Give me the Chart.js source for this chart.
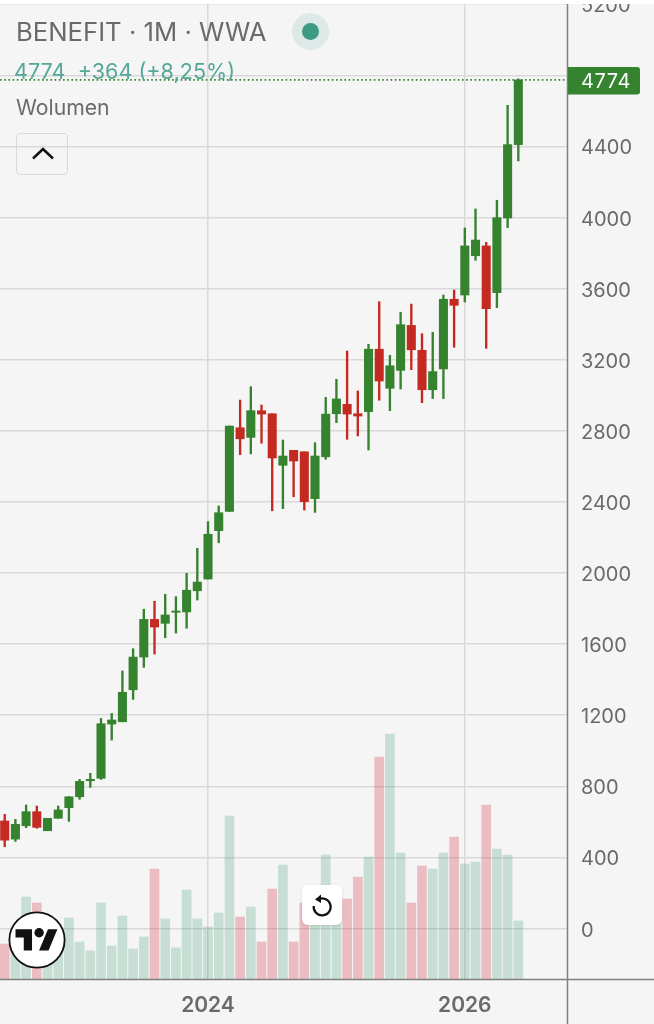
<!DOCTYPE html>
<html>
<head>
<meta charset="utf-8">
<title>BENEFIT 1M WWA</title>
<script src="https://cdn.jsdelivr.net/npm/chart.js@4"></script>
<style>
    html, body { margin: 0; padding: 0; background: #f5f5f5; }
    #wrap { position: relative; width: 654px; height: 1024px; overflow: hidden; font-family: Inter, sans-serif; }
    canvas { position: absolute; left: 0; top: 0; }
    .txt { position: absolute; white-space: pre; color: #6a6a6a; line-height: 1; }
    #topStrip { position: absolute; left: 0; top: 0; width: 654px; height: 3.5px; background: #fff; }
    #title { left: 16px; top: 19px; font-size: 25.7px; }
    #change { left: 14px; top: 61px; font-size: 21.6px; color: #55a797; }
    #volLabel { left: 16px; top: 97px; font-size: 21.2px; }
    #dot { position: absolute; left: 292px; top: 13px; width: 37px; height: 37px; border-radius: 50%; background: #dde9e6; }
    #dot i { position: absolute; left: 10px; top: 10px; width: 17px; height: 17px; border-radius: 50%; background: #3f9a83; }
    #collapse { position: absolute; left: 15.5px; top: 133px; width: 50px; height: 40px; border: 1.5px solid #d8d8d8; border-radius: 4px; }
    #reset { position: absolute; left: 302px; top: 885px; width: 40px; height: 40px; background: #fff; border-radius: 6px; box-shadow: 0 1px 3px rgba(0,0,0,0.12); }
    #logo { position: absolute; left: 8px; top: 911px; width: 58px; height: 58px; }
</style>
</head>
<body>
<div id="wrap">
    <canvas id="chart" width="654" height="1024"></canvas>
    <div id="topStrip"></div>
    <div class="txt" id="title">BENEFIT · 1M · WWA</div>
    <div class="txt" id="change">4774  +364 (+8,25%)</div>
    <div class="txt" id="volLabel">Wolumen</div>
    <div id="dot"><i></i></div>
    <div id="collapse">
        <svg width="50" height="40"><polyline points="16,24.5 26,15 36,24.5" fill="none" stroke="#111" stroke-width="2.5"/></svg>
    </div>
    <div id="reset">
        <svg width="40" height="40" viewBox="0 0 40 40">
            <path d="M16 14.5 A8.5 8.5 0 1 1 11.7 21" fill="none" stroke="#111" stroke-width="2.2"/>
            <polygon points="19,9.5 19,18 13,14.5" fill="#111"/>
        </svg>
    </div>
    <svg id="logo" viewBox="0 0 58 58">
        <circle cx="29" cy="29" r="27.6" fill="#fff" stroke="#111" stroke-width="1.8"/>
        <g transform="translate(7.5 13.5) scale(1.18)" fill="#111">
            <path d="M14 22H7V11H0V4h14v18zM28 22h-8l7.5-18h8L28 22z"/>
            <circle cx="20" cy="7" r="4"/>
        </g>
    </svg>
</div>

<script>
// monthly candles, Jun 2022 - Jun 2026
const months = [
    '2022-06','2022-07','2022-08','2022-09','2022-10','2022-11','2022-12',
    '2023-01','2023-02','2023-03','2023-04','2023-05','2023-06','2023-07','2023-08','2023-09','2023-10','2023-11','2023-12',
    '2024-01','2024-02','2024-03','2024-04','2024-05','2024-06','2024-07','2024-08','2024-09','2024-10','2024-11','2024-12',
    '2025-01','2025-02','2025-03','2025-04','2025-05','2025-06','2025-07','2025-08','2025-09','2025-10','2025-11','2025-12',
    '2026-01','2026-02','2026-03','2026-04','2026-05','2026-06'
];
const opens = [605,503,578,657,550,620,680,741,831,845,1150,1163,1343,1527,1739,1717,1779,1781,1900,1966,2238,2347,2817,2763,2913,2896,2606,2690,2682,2418,2654,2896,2949,2896,2908,3259,3039,3140,3393,3253,3031,3148,3540,3564,3785,3840,3577,3997,4410];
const highs = [642,614,695,689,620,689,741,839,873,1182,1210,1449,1574,1796,1841,1880,1867,1998,2139,2289,2377,2827,2973,3048,2945,2896,2748,2690,2682,2733,2988,3090,3249,3024,3287,3526,3225,3467,3513,3346,3354,3564,3592,3941,4048,3860,4097,4631,4780];
const lows = [460,490,567,564,550,620,603,727,794,839,1060,1163,1289,1469,1544,1636,1662,1689,1848,1966,2170,2347,2666,2670,2730,2350,2362,2429,2354,2341,2640,2846,2752,2771,2692,2972,2913,3035,3144,2958,2981,2981,3270,3525,3759,3264,3493,3943,4318];
const closes = [497,586,657,569,620,667,741,828,839,1152,1173,1329,1527,1739,1696,1764,1786,1903,1949,2218,2339,2827,2755,2913,2894,2647,2658,2630,2401,2658,2894,2979,2894,2883,3259,3080,3166,3397,3256,3031,3133,3540,3506,3840,3873,3487,3999,4410,4774];
const volumes = [350,490,820,760,540,490,610,370,280,760,330,630,300,420,1100,600,310,890,600,520,660,1630,620,720,370,900,1140,370,760,790,1240,740,800,1020,1220,2220,2450,1260,760,1130,1100,1260,1420,1150,1170,1740,1300,1240,580];
const priceTicks = [0,400,800,1200,1600,2000,2400,2800,3200,3600,4000,4400,4800,5200];
const yearLabels = ['2024','2026'];
const yearIndex = [19,43];
const lastPrice = 4774;

const GREEN = '#35822f';
const RED = '#c42a21';
const TEXT = '#6a6a6a';
const GRID = '#d9d9d9';
const AXIS = '#808080';

function candleColor(i) {
    return closes[i] >= opens[i] ? GREEN : RED;
}

const xMin = -0.44, xMax = 52.55;

// the small extras that are not datasets: axis lines running off the plot, price tag
const overlay = {
    id: 'overlay',
    afterLayout(chart) {
        // price labels sit a touch high with this font, nudge them onto the grid lines
        const s = chart.scales.y;
        if (s.nudged) return;
        const drawLabels = s.drawLabels.bind(s);
        s.drawLabels = function(area) {
            chart.ctx.save();
            chart.ctx.translate(0, 2);
            drawLabels(area);
            chart.ctx.restore();
        };
        s.nudged = true;
    },
    afterDraw(chart) {
        const c = chart.ctx, a = chart.chartArea;
        c.save();
        c.strokeStyle = AXIS;
        c.lineWidth = 1.5;
        c.beginPath();
        c.moveTo(a.right + 0.5, 0); c.lineTo(a.right + 0.5, chart.height);
        c.moveTo(0, a.bottom + 0.5); c.lineTo(chart.width, a.bottom + 0.5);
        c.stroke();
        const y = chart.scales.y.getPixelForValue(lastPrice);
        c.fillStyle = GREEN;
        c.beginPath();
        c.roundRect(a.right + 1, y - 13, 72, 27.5, [0, 3, 3, 0]);
        c.fill();
        c.fillStyle = '#fff';
        c.font = '20px Inter';
        c.letterSpacing = '0.6px';
        c.textBaseline = 'middle';
        c.fillText(String(lastPrice), a.right + 14, y + 2);
        c.restore();
    }
};

new Chart(document.getElementById('chart'), {
    data: {
        labels: months,
        datasets: [
            {
                type: 'line',
                data: [{x: xMin, y: lastPrice}, {x: xMax, y: lastPrice}],
                borderColor: GREEN,
                borderWidth: 1.6,
                borderDash: [1.6, 2.6],
                pointRadius: 0,
                yAxisID: 'y',
                order: 0
            },
            {
                type: 'bar',
                data: months.map((m, i) => ({x: i, y: [opens[i], closes[i]]})),
                backgroundColor: months.map((m, i) => candleColor(i)),
                barThickness: 8.4,
                grouped: false,
                yAxisID: 'y',
                order: 1
            },
            {
                type: 'bar',
                data: months.map((m, i) => ({x: i, y: [lows[i], highs[i]]})),
                backgroundColor: months.map((m, i) => candleColor(i)),
                barThickness: 1.7,
                grouped: false,
                yAxisID: 'y',
                order: 2
            },
            {
                type: 'bar',
                data: months.map((m, i) => ({x: i, y: volumes[i]})),
                backgroundColor: months.map((m, i) => closes[i] >= opens[i] ? 'rgba(60,155,115,0.25)' : 'rgba(215,55,80,0.30)'),
                barThickness: 9,
                grouped: false,
                yAxisID: 'vol',
                order: 3
            }
        ]
    },
    options: {
        responsive: false,
        animation: false,
        layout: { padding: 0 },
        plugins: { legend: { display: false }, tooltip: { enabled: false } },
        scales: {
            x: {
                type: 'linear',
                offset: false,
                min: xMin,
                max: xMax,
                afterBuildTicks(scale) {
                    scale.ticks = yearIndex.map(v => ({value: v}));
                },
                afterFit(scale) {
                    scale.height = 45;
                    scale.paddingLeft = 0;
                    scale.paddingRight = 0;
                },
                grid: { offset: false, color: GRID, lineWidth: 1.5, drawTicks: false },
                border: { display: false },
                ticks: {
                    autoSkip: false,
                    maxRotation: 0,
                    padding: 14,
                    color: TEXT,
                    font: { family: 'Inter', size: 21, weight: '600' },
                    callback: v => yearLabels[yearIndex.indexOf(v)]
                }
            },
            y: {
                position: 'right',
                min: -284.1,
                max: 5223.6,
                afterBuildTicks(scale) {
                    scale.ticks = priceTicks.map(v => ({value: v}));
                },
                afterFit(scale) {
                    scale.width = 87;
                    scale.paddingTop = 0;
                    scale.paddingBottom = 0;
                },
                grid: { color: GRID, lineWidth: 1.5, drawTicks: false },
                border: { display: false },
                ticks: {
                    padding: 14,
                    color: TEXT,
                    font: { family: 'Inter', size: 20 },
                    callback: v => String(v)
                }
            },
            vol: {
                display: false,
                min: 0,
                max: 9790
            }
        }
    },
    plugins: [overlay]
});
</script>
</body>
</html>
